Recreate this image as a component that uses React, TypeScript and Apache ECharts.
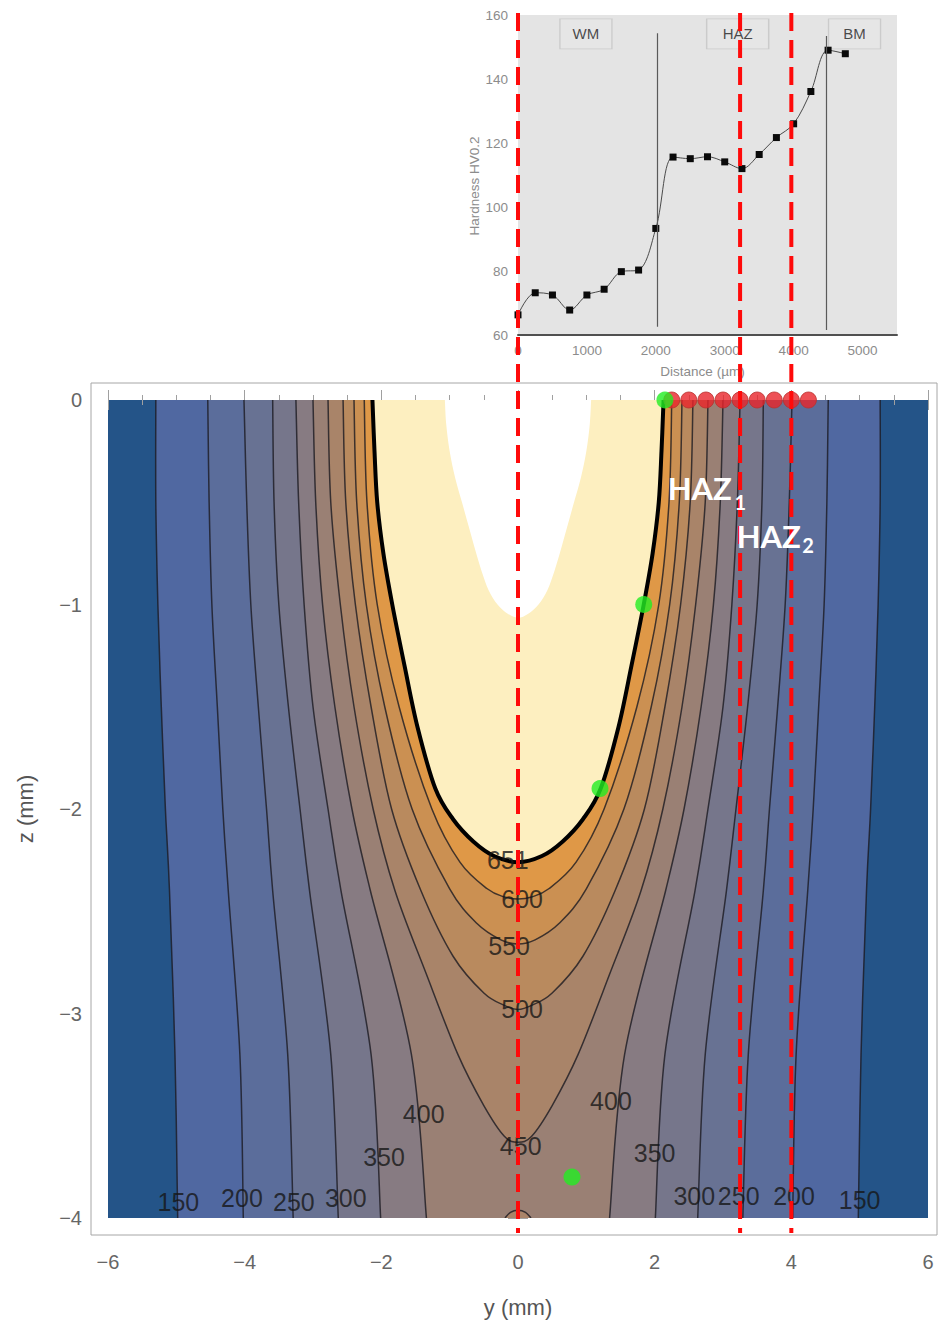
import React, { useEffect, useRef } from "react";
import * as echarts from "echarts";

type P = [number, number];

// ---------- main plot: isotherms (right half, y mm, z mm, surface -> depth) ----------
const LEVELS = [150, 200, 250, 300, 350, 400, 450, 500, 550, 600, 651];

const ISO_150: P[] = [[5.30, 0], [5.30, -0.5], [5.27, -1.0], [5.22, -1.5], [5.16, -2.0], [5.10, -2.4], [5.02, -3.2], [4.98, -4]];
const ISO_200: P[] = [[4.54, 0], [4.52, -0.5], [4.48, -1.0], [4.40, -1.5], [4.32, -2.0], [4.24, -2.4], [4.07, -3.2], [4.02, -4]];
const ISO_250: P[] = [[4.01, 0], [3.97, -0.5], [3.91, -1.0], [3.80, -1.5], [3.68, -2.0], [3.59, -2.4], [3.37, -3.2], [3.29, -4]];
const ISO_300: P[] = [[3.59, 0], [3.57, -0.5], [3.50, -1.0], [3.36, -1.5], [3.19, -2.0], [3.05, -2.4], [2.74, -3.2], [2.63, -4]];
const ISO_350: P[] = [[3.25, 0], [3.21, -0.5], [3.13, -1.0], [3.00, -1.5], [2.78, -2.0], [2.59, -2.4], [2.15, -3.2], [2.01, -4]];
const ISO_400: P[] = [[3.00, 0], [2.96, -0.5], [2.86, -1.0], [2.68, -1.5], [2.43, -2.0], [2.16, -2.4], [1.56, -3.2], [1.34, -4]];
const ISO_450: P[] = [[2.78, 0], [2.74, -0.5], [2.60, -1.0], [2.40, -1.5], [2.12, -2.0], [1.80, -2.4], [1.35, -2.8], [0.88, -3.2], [0.50, -3.45], [0.20, -3.60], [0, -3.63]];
const ISO_500: P[] = [[2.56, 0], [2.52, -0.5], [2.38, -1.0], [2.15, -1.5], [1.85, -2.0], [1.42, -2.4], [0.95, -2.72], [0.50, -2.9], [0.20, -2.96], [0, -2.98]];
const ISO_550: P[] = [[2.40, 0], [2.36, -0.5], [2.22, -1.0], [1.95, -1.5], [1.55, -2.0], [1.00, -2.39], [0.60, -2.56], [0.25, -2.64], [0, -2.66]];
const ISO_600: P[] = [[2.25, 0], [2.21, -0.5], [2.06, -1.0], [1.74, -1.5], [1.26, -2.0], [0.85, -2.26], [0.45, -2.39], [0.20, -2.43], [0, -2.44]];
const ISO_651: P[] = [[2.13, 0], [2.10, -0.25], [2.06, -0.5], [1.97, -0.75], [1.84, -1.0], [1.66, -1.3], [1.47, -1.6], [1.21, -1.9], [0.95, -2.05], [0.65, -2.16], [0.35, -2.23], [0, -2.26]];
const BUMP_450: P[] = [[0.19, -4], [0.11, -3.972], [0, -3.962]];
const KEYHOLE: P[] = [[1.07, 0], [1.05, -0.12], [1.0, -0.25], [0.92, -0.38], [0.82, -0.5], [0.72, -0.62], [0.62, -0.74], [0.53, -0.84], [0.43, -0.93], [0.30, -1.0], [0.15, -1.045], [0, -1.065]];

const ISOTHERMS: P[][] = [ISO_150, ISO_200, ISO_250, ISO_300, ISO_350, ISO_400, ISO_450, ISO_500, ISO_550, ISO_600, ISO_651];

// contour labels
const LABEL_TEXT = ["651", "600", "550", "500", "450", "400", "400", "350", "350", "300", "300", "250", "250", "200", "200", "150", "150"];
const LABEL_Y = [-0.15, 0.06, -0.13, 0.06, 0.04, -1.38, 1.36, -1.96, 2.0, -2.52, 2.58, -3.28, 3.23, -4.04, 4.04, -4.97, 5.0];
const LABEL_Z = [-2.25, -2.44, -2.67, -2.98, -3.65, -3.49, -3.43, -3.70, -3.68, -3.90, -3.89, -3.92, -3.89, -3.90, -3.89, -3.92, -3.91];

// measurement points on the surface and fusion-line points
const MEAS_Y = [2.25, 2.5, 2.75, 3.0, 3.25, 3.5, 3.75, 4.0, 4.25];
const GREEN_Y = [2.15, 1.84, 1.2, 0.79];
const GREEN_Z = [0, -1.0, -1.9, -3.8];

// HAZ boundaries (mm) and annotations
const HAZ_LINES_Y = [0, 3.25, 4.0];
const HAZ_TEXT = ["HAZ", "HAZ"];
const HAZ_SUB = ["1", "2"];
const HAZ_TEXT_Y = [2.19, 3.20];
const HAZ_TEXT_Z = [-0.43, -0.665];
const HAZ_SUB_Y = [3.17, 4.16];
const HAZ_SUB_Z = [-0.5, -0.71];

// ---------- inset: hardness profile ----------
const DIST_UM = [0, 250, 500, 750, 1000, 1250, 1500, 1750, 2000, 2250, 2500, 2750, 3000, 3250, 3500, 3750, 4000, 4250, 4500, 4750];
const HV = [66.3, 73.2, 72.5, 67.8, 72.5, 74.3, 79.8, 80.3, 93.3, 115.6, 115.1, 115.7, 114.1, 112.0, 116.4, 121.7, 126.0, 136.1, 149.0, 147.9];
const ZONE_BOUND_UM = [2020, 4470];
const ZONE_BOUND_TOP = [154.3, 153.4];
const ZONE_BOUND_BOTTOM = [62.6, 61.6];
const ZONE_NAMES = ["WM", "HAZ", "BM"];
const ZONE_CENTER_UM = [986, 3188, 4884];
const ZONE_LABEL_HV = 154.1;
const ZONE_BOX_W = [52, 62, 52];

// band colours: below 150, then region above each level
const BAND_COLORS = ["#245488", "#5068a1", "#5b6d9b", "#687293", "#76768b", "#877b82", "#9a8074", "#a98469", "#b98a5e", "#cb9052", "#df9847", "#fdefc0"];

const FONT = "'Liberation Sans', Arial, sans-serif";

function spline(pts: number[][], start: boolean): string {
  const n = pts.length;
  const f = (v: number) => v.toFixed(2);
  let d = (start ? "M" : "L") + f(pts[0][0]) + " " + f(pts[0][1]);
  for (let i = 0; i < n - 1; i++) {
    const p0 = pts[i === 0 ? 0 : i - 1];
    const p1 = pts[i];
    const p2 = pts[i + 1];
    const p3 = pts[i + 2 < n ? i + 2 : n - 1];
    d +=
      " C" + f(p1[0] + (p2[0] - p0[0]) / 6) + " " + f(p1[1] + (p2[1] - p0[1]) / 6) +
      " " + f(p2[0] - (p3[0] - p1[0]) / 6) + " " + f(p2[1] - (p3[1] - p1[1]) / 6) +
      " " + f(p2[0]) + " " + f(p2[1]);
  }
  return d;
}

function isoPath(api: any, pts: P[], closed: boolean): string {
  const toPx = (p: P) => api.coord(p);
  const left = pts.map((p) => toPx([-p[0], p[1]]));
  const isU = pts[pts.length - 1][0] === 0;
  if (isU) {
    const right = pts.slice(0, -1).reverse().map(toPx);
    return spline(left.concat(right), true) + (closed ? " Z" : "");
  }
  const right = pts.slice().reverse().map(toPx);
  return spline(left, true) + " " + spline(right, !closed) + (closed ? " Z" : "");
}

const FILL_SHAPES: P[][] = [ISO_150, ISO_200, ISO_250, ISO_300, ISO_350, ISO_400, ISO_450, BUMP_450, ISO_500, ISO_550, ISO_600, ISO_651, KEYHOLE];
const FILL_COLORS = [BAND_COLORS[1], BAND_COLORS[2], BAND_COLORS[3], BAND_COLORS[4], BAND_COLORS[5], BAND_COLORS[6], BAND_COLORS[7], BAND_COLORS[7], BAND_COLORS[8], BAND_COLORS[9], BAND_COLORS[10], BAND_COLORS[11], "#ffffff"];
const STROKE_SHAPES: P[][] = [...ISOTHERMS, BUMP_450];

const minus = (v: number) => (v < 0 ? "\u2212" + Math.abs(v) : String(v));

export default function App() {
  const ref = useRef<HTMLDivElement>(null);
  useEffect(() => {
    if (!ref.current) return;
    const chart = echarts.init(ref.current, undefined, { renderer: "svg" });
    const tickColor = "#a0a0a0";
    const option: any = {
      animation: false,
      backgroundColor: "#ffffff",
      grid: [
        { left: 108, top: 400, width: 820, height: 818, show: true, backgroundColor: BAND_COLORS[0], borderWidth: 0 },
        { left: 518, top: 15, width: 379, height: 320, show: true, backgroundColor: "#e4e4e4", borderWidth: 0 },
      ],
      xAxis: [
        {
          gridIndex: 0, type: "value", min: -6, max: 6, interval: 2, position: "bottom", offset: 17,
          axisLine: { show: false },
          axisTick: { show: true, inside: true, length: 10, lineStyle: { color: tickColor } },
          minorTick: { show: true, splitNumber: 4, length: 5, lineStyle: { color: tickColor } },
          splitLine: { show: false }, minorSplitLine: { show: false },
          axisLabel: { margin: 17, color: "#666", fontSize: 20, fontFamily: FONT, formatter: minus },
          name: "y (mm)", nameLocation: "middle", nameGap: 61,
          nameTextStyle: { fontSize: 22, color: "#555", fontFamily: FONT },
        },
        {
          gridIndex: 0, type: "value", min: -6, max: 6, interval: 2, position: "top", offset: 17,
          axisLine: { show: false },
          axisTick: { show: true, inside: true, length: 10, lineStyle: { color: tickColor } },
          minorTick: { show: true, splitNumber: 4, length: 5, lineStyle: { color: tickColor } },
          splitLine: { show: false }, axisLabel: { show: false },
        },
        {
          gridIndex: 1, type: "value", min: 0, max: 5500, interval: 1000,
          axisLine: { show: true, lineStyle: { color: "#505050", width: 2 } },
          axisTick: { show: false }, splitLine: { show: false },
          axisLabel: { margin: 8, color: "#8c8c8c", fontSize: 13.5, fontFamily: FONT, showMaxLabel: false, formatter: (v: number) => String(v) },
          name: "Distance (\u00b5m)", nameLocation: "middle", nameGap: 29,
          nameTextStyle: { fontSize: 13.5, color: "#8c8c8c", fontFamily: FONT, padding: [0, 10, 0, 0] },
        },
      ],
      yAxis: [
        {
          gridIndex: 0, type: "value", min: -4, max: 0, interval: 1, position: "left", offset: 17,
          axisLine: { show: false },
          axisTick: { show: true, inside: true, length: 10, lineStyle: { color: tickColor } },
          minorTick: { show: true, splitNumber: 5, length: 5, lineStyle: { color: tickColor } },
          splitLine: { show: false },
          axisLabel: { margin: 9, color: "#666", fontSize: 20, fontFamily: FONT, formatter: minus },
          name: "z (mm)", nameLocation: "middle", nameGap: 55,
          nameTextStyle: { fontSize: 22, color: "#555", fontFamily: FONT },
        },
        {
          gridIndex: 0, type: "value", min: -4, max: 0, interval: 1, position: "right", offset: 9,
          axisLine: { show: false },
          axisTick: { show: true, inside: true, length: 10, lineStyle: { color: tickColor } },
          minorTick: { show: true, splitNumber: 5, length: 5, lineStyle: { color: tickColor } },
          splitLine: { show: false }, axisLabel: { show: false },
        },
        {
          gridIndex: 1, type: "value", min: 60, max: 160, interval: 20,
          axisLine: { show: false }, axisTick: { show: false }, splitLine: { show: false },
          axisLabel: { margin: 10, color: "#8c8c8c", fontSize: 13.5, fontFamily: FONT },
          name: "Hardness HV0.2", nameLocation: "middle", nameGap: 36,
          nameTextStyle: { fontSize: 13.5, color: "#8c8c8c", fontFamily: FONT, padding: [0, 22, 0, 0] },
        },
      ],
      series: [
        {
          type: "custom", xAxisIndex: 0, yAxisIndex: 0, z: 1, silent: true, clip: true,
          data: FILL_SHAPES.map(() => [0, -2]),
          renderItem: (params: any, api: any) => ({
            type: "path",
            shape: { pathData: isoPath(api, FILL_SHAPES[params.dataIndex], true) },
            style: { fill: FILL_COLORS[params.dataIndex], stroke: "none" },
          }),
        },
        {
          type: "custom", xAxisIndex: 0, yAxisIndex: 0, z: 2, silent: true, clip: true,
          data: STROKE_SHAPES.map(() => [0, -2]),
          renderItem: (params: any, api: any) => {
            const thick = STROKE_SHAPES[params.dataIndex] === ISO_651;
            return {
              type: "path",
              shape: { pathData: isoPath(api, STROKE_SHAPES[params.dataIndex], false) },
              style: {
                fill: "none",
                stroke: thick ? "#000000" : "rgba(28,26,34,0.8)",
                lineWidth: thick ? 4 : 1.5,
              },
            };
          },
        },
        {
          type: "scatter", xAxisIndex: 0, yAxisIndex: 0, z: 3, silent: true,
          symbolSize: 1, itemStyle: { color: "rgba(0,0,0,0)" },
          data: LABEL_TEXT.map((t, i) => ({ name: t, value: [LABEL_Y[i], LABEL_Z[i]] })),
          label: { show: true, position: "inside", formatter: "{b}", fontSize: 25, color: "#161616", fontFamily: FONT },
        },
        {
          type: "scatter", xAxisIndex: 0, yAxisIndex: 0, z: 4, clip: false, silent: true,
          symbolSize: 16,
          itemStyle: { color: "#e8242a", borderColor: "#b8322e", borderWidth: 1 },
          data: MEAS_Y.map((y) => [y, 0]),
        },
        {
          type: "scatter", xAxisIndex: 0, yAxisIndex: 0, z: 5, clip: false, silent: true,
          symbolSize: 17,
          itemStyle: { color: "#22ee22" },
          data: GREEN_Y.map((y, i) => [y, GREEN_Z[i]]),
        },
        {
          type: "line", xAxisIndex: 2, yAxisIndex: 2, z: 3, silent: true,
          smooth: 0.35, symbol: "rect", symbolSize: 7,
          itemStyle: { color: "#0a0a0a" },
          lineStyle: { color: "#4a4a4a", width: 1 },
          data: DIST_UM.map((d, i) => [d, HV[i]]),
          markLine: {
            silent: true, symbol: ["none", "none"], label: { show: false },
            lineStyle: { color: "#5a5a5a", width: 1.2, type: "solid" },
            data: ZONE_BOUND_UM.map((x, i) => [{ coord: [x, ZONE_BOUND_TOP[i]] }, { coord: [x, ZONE_BOUND_BOTTOM[i]] }]),
          },
        },
        {
          type: "scatter", xAxisIndex: 2, yAxisIndex: 2, z: 2, silent: true, symbol: "rect",
          itemStyle: { color: "#e6e6e6", borderColor: "#c4c4c4", borderWidth: 1 },
          data: ZONE_NAMES.map((n, i) => ({ name: n, value: [ZONE_CENTER_UM[i], ZONE_LABEL_HV], symbolSize: [ZONE_BOX_W[i], 30] })),
          label: { show: true, position: "inside", formatter: "{b}", fontSize: 15, color: "#1e1e1e", fontFamily: FONT },
        },
      ],
    };
    chart.setOption(option);

    const px = (y: number, z: number) => chart.convertToPixel({ gridIndex: 0 }, [y, z]) as number[];
    const graphics: any[] = [
      {
        type: "rect", silent: true, z: 10,
        shape: { x: 91, y: 383, width: 846, height: 852 },
        style: { fill: "none", stroke: "#a6a6a6", lineWidth: 1 },
      },
    ];
    HAZ_LINES_Y.forEach((y) => {
      const x = px(y, 0)[0];
      graphics.push({
        type: "line", silent: true, z: 60,
        shape: { x1: x, y1: 13, x2: x, y2: 1233 },
        style: { stroke: "#ff0a0a", lineWidth: 4, lineDash: [18, 9] },
      });
    });
    HAZ_TEXT.forEach((t, i) => {
      const p = px(HAZ_TEXT_Y[i], HAZ_TEXT_Z[i]);
      graphics.push({
        type: "text", silent: true, z: 70, x: p[0], y: p[1],
        style: { text: t, fill: "#ffffff", font: "bold 31px Lato, 'Open Sans', sans-serif", align: "left", verticalAlign: "middle" },
      });
      const s = px(HAZ_SUB_Y[i], HAZ_SUB_Z[i]);
      graphics.push({
        type: "text", silent: true, z: 70, x: s[0], y: s[1],
        style: { text: HAZ_SUB[i], fill: "#ffffff", font: "bold 20px Lato, 'Open Sans', sans-serif", align: "left", verticalAlign: "middle" },
      });
    });
    chart.setOption({ graphic: graphics });

    return () => chart.dispose();
  }, []);
  return (
    <div
      ref={ref}
      style={{ position: "absolute", left: 0, top: 0, width: 938, height: 1323, background: "#fff" }}
    />
  );
}
